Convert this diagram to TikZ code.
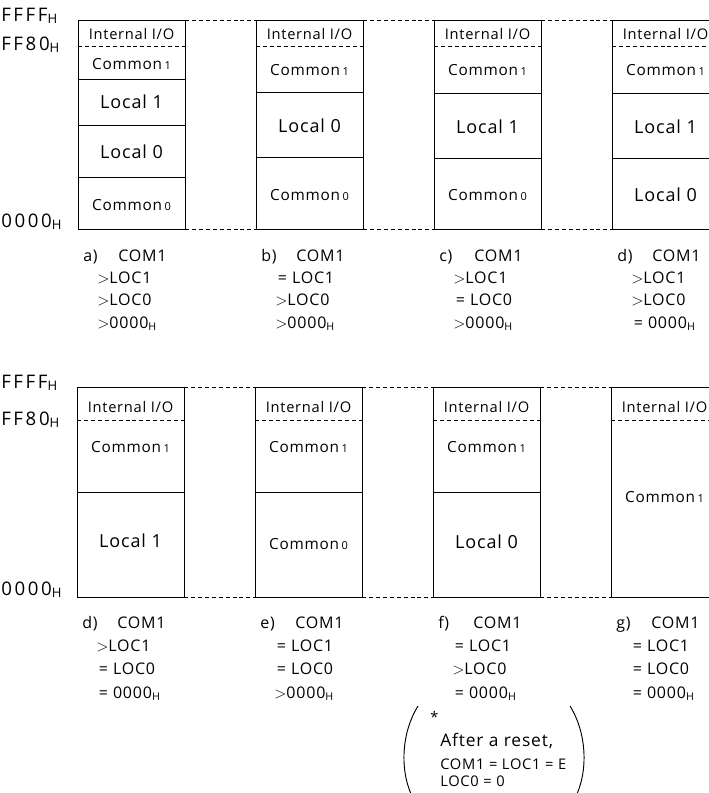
\documentclass[tikz,border=0pt]{standalone}
\usepackage{fontspec}
\setmainfont{Open Sans}[LetterSpace=5]
\newfontfamily\addrfont{Open Sans}[LetterSpace=14]
\usetikzlibrary{calc}

\tikzset{
  box/.style={line width=0.7pt},
  iodash/.style={line width=0.7pt, dash pattern=on 3pt off 2.2pt},
  iotext/.style={inner sep=0pt, font=\fontsize{11}{13}\selectfont},
  comtext/.style={inner sep=0pt, font=\fontsize{11.5}{13}\selectfont},
  loctext/.style={inner sep=0pt, font=\fontsize{13.5}{15}\selectfont},
  addr/.style={anchor=base west, inner sep=0pt, font=\addrfont\fontsize{14}{16}\selectfont},
  cond/.style={anchor=base west, inner sep=0pt, font=\fontsize{12}{14}\selectfont},
}

\newcommand\hsub{\textsubscript{H}}
\newcommand\idx[1]{\,\scalebox{0.72}{#1}}

\begin{document}
\begin{tikzpicture}[x=0.75pt,y=-0.75pt]
    \def\w{107} % width of one memory map
    \useasboundingbox (0,0) rectangle (709,793);
    \clip (0,0) rectangle (709,793);

%%% upper row of maps, a) to d)
\foreach \n/\x in {u1/78,u2/256,u3/434,u4/612} {
    \coordinate (\n-tl) at (\x,20);
    \coordinate (\n-tr) at ({\x+\w},20);
    \coordinate (\n-bl) at (\x,229);
    \coordinate (\n-br) at ({\x+\w},229);
    \draw[box] (\n-tl) rectangle (\n-br);
    \draw[iodash] (\x,46) -- ({\x+\w},46);
    \node[iotext] (\n-io) at ({\x+\w/2},34) {Internal I/O};
}

% borders inside the maps
\draw[box] (78,79) -- +(\w,0) (78,125) -- +(\w,0) (78,177) -- +(\w,0);
\draw[box] (256,92) -- +(\w,0) (256,157) -- +(\w,0);
\draw[box] (434,93) -- +(\w,0) (434,158) -- +(\w,0);
\draw[box] (612,93) -- +(\w,0) (612,158) -- +(\w,0);

\node[comtext] (u1-com1) at (131.5,64) {Common\idx{1}};
\node[loctext] (u1-loc1) at (131.5,102) {Local 1};
\node[loctext] (u1-loc0) at (131.5,152) {Local 0};
\node[comtext] (u1-com0) at (131.5,205) {Common\idx{0}};

\node[comtext] (u2-com1) at (309.5,70) {Common\idx{1}};
\node[loctext] (u2-loc0) at (309.5,126) {Local 0};
\node[comtext] (u2-com0) at (309.5,195) {Common\idx{0}};

\node[comtext] (u3-com1) at (487.5,70) {Common\idx{1}};
\node[loctext] (u3-loc1) at (487.5,127) {Local 1};
\node[comtext] (u3-com0) at (487.5,195) {Common\idx{0}};

\node[comtext] (u4-com1) at (665.5,70) {Common\idx{1}};
\node[loctext] (u4-loc1) at (665.5,127) {Local 1};
\node[loctext] (u4-loc0) at (665.5,195) {Local 0};

% dashed lines from map to map
\draw[iodash] (u1-tr) -- (u2-tl) (u2-tr) -- (u3-tl) (u3-tr) -- (u4-tl);
\draw[iodash] (u1-br) -- (u2-bl) (u2-br) -- (u3-bl) (u3-br) -- (u4-bl);

% addresses
\node[addr] (u-ffff) at (1,21) {FFFF\hsub};
\node[addr] (u-ff80) at (1,50) {FF80\hsub};
\node[addr] (u-0000) at (1,227) {0000\hsub};

% conditions under the maps
\foreach \x/\l/\ra/\rb/\rc in {78/a/{$>$LOC1}/{$>$LOC0}/{$>$0000\hsub},
                             256/b/{\,= LOC1}/{$>$LOC0}/{$>$0000\hsub},
                             434/c/{$>$LOC1}/{\,= LOC0}/{$>$0000\hsub},
                             612/d/{$>$LOC1}/{$>$LOC0}/{\,= 0000\hsub}} {
    \node[cond] (ucap-\l) at ({\x+5},261) {\l)};
    \node[cond] (ucom-\l) at ({\x+40},261) {COM1};
    \node[cond] (ura-\l) at ({\x+19},283) {\ra};
    \node[cond] (urb-\l) at ({\x+19},305) {\rb};
    \node[cond] (urc-\l) at ({\x+19},328) {\rc};
}

%%% lower row of maps, d) to g)
\foreach \n/\x in {l1/77,l2/255,l3/433,l4/611} {
    \coordinate (\n-tl) at (\x,387);
    \coordinate (\n-tr) at ({\x+\w},387);
    \coordinate (\n-bl) at (\x,597);
    \coordinate (\n-br) at ({\x+\w},597);
    \draw[box] (\n-tl) rectangle (\n-br);
    \draw[iodash] (\x,420) -- ({\x+\w},420);
    \node[iotext] (\n-io) at ({\x+\w/2},407) {Internal I/O};
}

\draw[box] (77,492) -- +(\w,0);
\draw[box] (255,492) -- +(\w,0);
\draw[box] (433,492) -- +(\w,0);

\node[comtext] (l1-com1) at (130.5,447) {Common\idx{1}};
\node[loctext] (l1-loc1) at (130.5,541) {Local 1};

\node[comtext] (l2-com1) at (308.5,447) {Common\idx{1}};
\node[comtext] (l2-com0) at (308.5,544) {Common\idx{0}};

\node[comtext] (l3-com1) at (486.5,447) {Common\idx{1}};
\node[loctext] (l3-loc0) at (486.5,542) {Local 0};

\node[comtext] (l4-com1) at (664.5,497) {Common\idx{1}};

\draw[iodash] (l1-tr) -- (l2-tl) (l2-tr) -- (l3-tl) (l3-tr) -- (l4-tl);
\draw[iodash] (l1-br) -- (l2-bl) (l2-br) -- (l3-bl) (l3-br) -- (l4-bl);

\node[addr] (l-ffff) at (1,388) {FFFF\hsub};
\node[addr] (l-ff80) at (1,425) {FF80\hsub};
\node[addr] (l-0000) at (1,595) {0000\hsub};

\foreach \x/\l/\ra/\rb/\rc in {77/d/{$>$LOC1}/{\,= LOC0}/{\,= 0000\hsub},
                             255/e/{\,= LOC1}/{\,= LOC0}/{$>$0000\hsub},
                             433/f/{\,= LOC1}/{$>$LOC0}/{\,= 0000\hsub},
                             611/g/{\,= LOC1}/{\,= LOC0}/{\,= 0000\hsub}} {
    \node[cond] (lcap-\l) at ({\x+5},628) {\l)};
    \node[cond] (lcom-\l) at ({\x+40},628) {COM1};
    \node[cond] (lra-\l) at ({\x+19},651) {\ra};
    \node[cond] (lrb-\l) at ({\x+19},674) {\rb};
    \node[cond] (lrc-\l) at ({\x+19},698) {\rc};
}

%%% note on the reset state
\node[anchor=base west, inner sep=0pt, font=\fontsize{11}{12}\selectfont] (star) at (430,722) {*};
\node[anchor=base west, inner sep=0pt, font=\fontsize{13}{15}\selectfont] (reset) at (440,746) {After a reset,};
\node[anchor=base west, inner sep=0pt, font=\fontsize{11}{12}\selectfont] (reset-com) at (440,769) {COM1 = LOC1 = E};
\node[anchor=base west, inner sep=0pt, font=\fontsize{11}{12}\selectfont] (reset-loc) at (440,786) {LOC0 = 0};

\draw[line width=0.7pt] (418,706) .. controls (400,735) and (400,775) .. (414,800);
\draw[line width=0.7pt] (570,706) .. controls (588,735) and (588,775) .. (574,800);

\end{tikzpicture}
\end{document}
